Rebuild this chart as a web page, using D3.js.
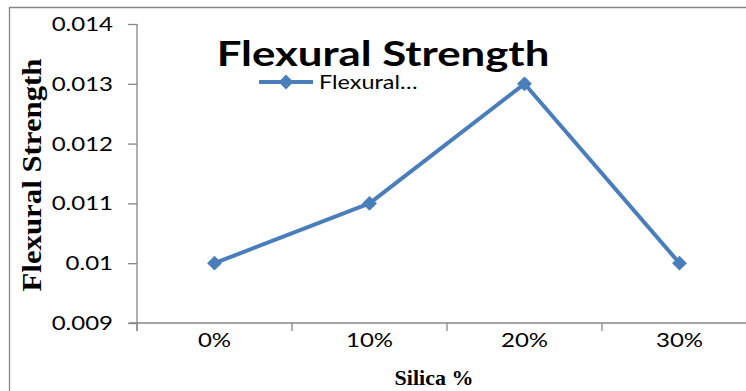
<!DOCTYPE html>
<html>
<head>
<meta charset="utf-8">
<script src="https://cdn.jsdelivr.net/npm/d3@7"></script>
<style>
  html, body { margin: 0; padding: 0; background: #fff; }
  svg { display: block; }
</style>
</head>
<body>
<svg id="chart" width="746" height="391"></svg>
<script>
// Flexural strength by silica content
const categories = ["0%", "10%", "20%", "30%"];
const values = [0.010, 0.011, 0.013, 0.010];
const yTicks = [0.009, 0.010, 0.011, 0.012, 0.013, 0.014];
const yTickLabels = ["0.009", "0.01", "0.011", "0.012", "0.013", "0.014"];
const seriesName = "Flexural\u2026";

const svg = d3.select("#chart");
const W = 746, H = 391;
const plot = { left: 137, right: 757, top: 24, bottom: 323 };
const lineColor = "#4a7ebb";
const axisColor = "#868686";
const sans = "Lato, 'Open Sans', 'Liberation Sans', sans-serif";
const serif = "'Liberation Serif', 'DejaVu Serif', serif";

// widen glyphs horizontally by factor k, keeping each text's anchor
function stretch(sel, k) {
  sel.each(function () {
    const len = this.getComputedTextLength();
    d3.select(this).attr("textLength", len * k).attr("lengthAdjust", "spacingAndGlyphs");
  });
}

// chart frame
svg.append("path")
  .attr("d", `M9.5,${H} V7.5 H${W}`)
  .attr("fill", "none")
  .attr("stroke", axisColor)
  .attr("stroke-width", 1.3);

const x = d3.scaleBand().domain(categories).range([plot.left, plot.right]);
const y = d3.scaleLinear().domain([0.009, 0.014]).range([plot.bottom, plot.top]);

// y axis
const yAxis = svg.append("g")
  .attr("transform", `translate(${plot.left},0)`)
  .call(d3.axisLeft(y).tickValues(yTicks)
    .tickFormat((d, i) => yTickLabels[i]).tickSize(9).tickPadding(15));
yAxis.select(".domain").attr("stroke", axisColor).attr("stroke-width", 1.3)
  .attr("d", `M0,${plot.top} V${plot.bottom + 8}`);
yAxis.selectAll(".tick line").attr("stroke", axisColor).attr("stroke-width", 1.3);
yAxis.selectAll(".tick text")
  .attr("font-family", sans).attr("font-size", 20).attr("fill", "#000")
  .call(stretch, 1.2);

// x axis
const xAxis = svg.append("g")
  .attr("transform", `translate(0,${plot.bottom})`)
  .call(d3.axisBottom(x).tickSize(0).tickPadding(10));
xAxis.select(".domain").attr("stroke", axisColor).attr("stroke-width", 1.3)
  .attr("d", `M${plot.left - 8},0 H${W}`);
xAxis.selectAll(".tick text")
  .attr("font-family", sans).attr("font-size", 20).attr("fill", "#000")
  .call(stretch, 1.2);
// tick marks between categories
const bounds = categories.map(c => x(c)).concat([x(categories[categories.length - 1]) + x.bandwidth()]);
xAxis.selectAll(".sep").data(bounds).enter().append("line")
  .attr("x1", d => d).attr("x2", d => d)
  .attr("y1", 0).attr("y2", 8)
  .attr("stroke", axisColor).attr("stroke-width", 1.3);

// series line
const cx = d => x(d) + x.bandwidth() / 2;
const pts = categories.map((c, i) => [cx(c), y(values[i])]);
svg.append("path")
  .attr("d", d3.line()(pts))
  .attr("fill", "none")
  .attr("stroke", lineColor)
  .attr("stroke-width", 4)
  .attr("stroke-linejoin", "round");

const diamond = d3.symbol().type(d3.symbolSquare).size(110);
svg.selectAll(".marker").data(pts).enter().append("path")
  .attr("transform", d => `translate(${d[0]},${d[1]}) rotate(45)`)
  .attr("d", diamond)
  .attr("fill", lineColor);

// title
svg.append("text")
  .attr("x", 383).attr("y", 66)
  .attr("text-anchor", "middle")
  .attr("font-family", sans).attr("font-weight", "bold")
  .attr("font-size", 35).attr("fill", "#000")
  .text("Flexural Strength")
  .call(stretch, 1.25);

// legend
svg.append("line")
  .attr("x1", 259).attr("x2", 313).attr("y1", 82).attr("y2", 82)
  .attr("stroke", lineColor).attr("stroke-width", 4);
svg.append("path")
  .attr("transform", "translate(286,82) rotate(45)")
  .attr("d", diamond).attr("fill", lineColor);
svg.append("text")
  .attr("x", 319).attr("y", 89)
  .attr("font-family", sans).attr("font-size", 20).attr("fill", "#000")
  .text(seriesName)
  .call(stretch, 1.17);

// axis titles
svg.append("text")
  .attr("transform", "translate(41,175) rotate(-90)")
  .attr("text-anchor", "middle")
  .attr("font-family", serif).attr("font-weight", "bold")
  .attr("font-size", 28).attr("fill", "#000")
  .text("Flexural Strength")
  .call(stretch, 1.1);
svg.append("text")
  .attr("x", 434).attr("y", 385)
  .attr("text-anchor", "middle")
  .attr("font-family", serif).attr("font-weight", "bold")
  .attr("font-size", 22).attr("fill", "#000")
  .text("Silica %");
</script>
</body>
</html>
